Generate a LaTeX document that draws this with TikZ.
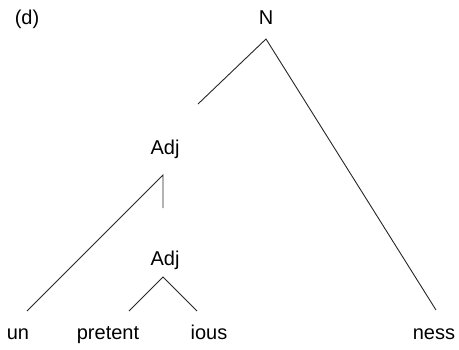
\documentclass[tikz,border=0pt]{standalone}
\usepackage{fontspec}
\setmainfont{Liberation Sans}
\begin{document}
\begin{tikzpicture}[x=1pt,y=-1pt,
  lab/.style={inner sep=0pt,anchor=base,font=\fontsize{20}{24}\selectfont},
  br/.style={line width=0.9pt,black!85}]
\useasboundingbox (0,0) rectangle (459,349);
\node[lab] (d) at (27,24) {(d)};
\node[lab] (N) at (266,24) {N};
\coordinate (Ntop) at (266,39);
\coordinate (Nl) at (198,104);
\node[lab] (A1) at (165,154) {Adj};
\coordinate (A1top) at (163,175);
\coordinate (A1v) at (163,208);
\node[lab] (A2) at (165,265) {Adj};
\coordinate (A2top) at (163,277);
\node[lab] (un) at (18,339) {un};
\node[lab] (pre) at (108,339) {pretent};
\node[lab] (ious) at (209,339) {ious};
\node[lab] (ness) at (434,339) {ness};
\coordinate (unT) at (27,311);
\coordinate (preT) at (129,311);
\coordinate (iousT) at (197,311);
\coordinate (nessT) at (436,310);
\draw[br] (Nl) -- (Ntop) -- (nessT);
\draw[br] (unT) -- (A1top) -- (A1v);
\draw[br] (preT) -- (A2top) -- (iousT);
\end{tikzpicture}
\end{document}
